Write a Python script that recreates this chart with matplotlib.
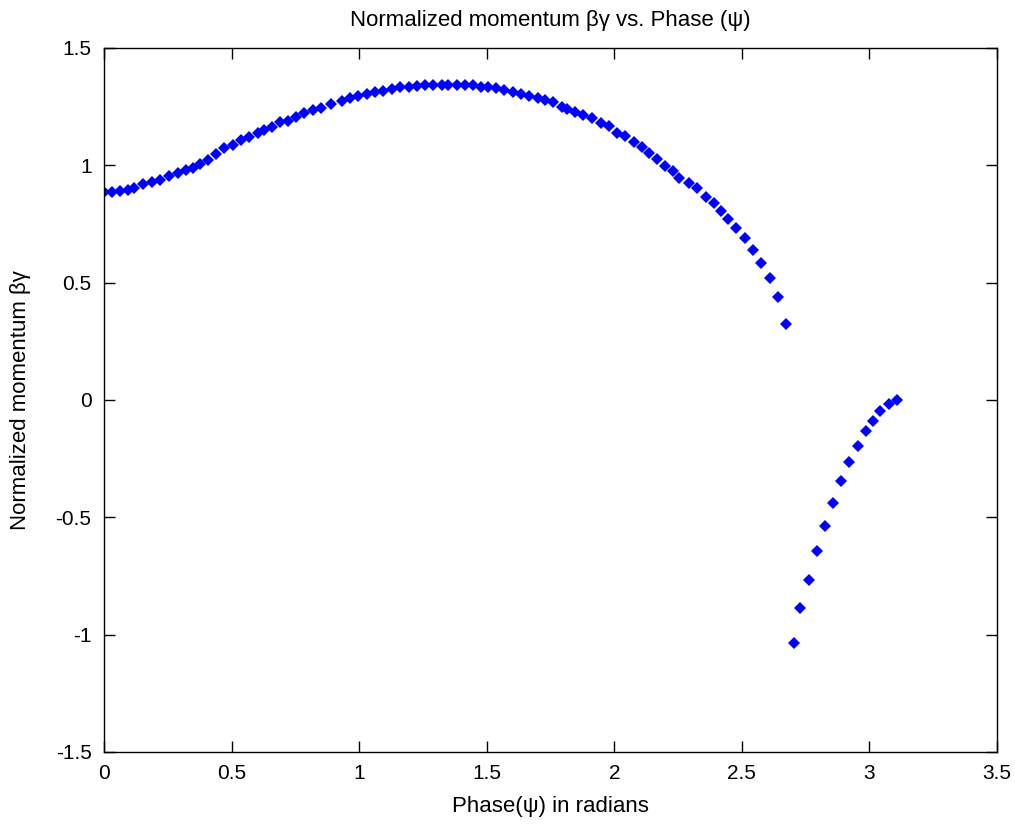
import matplotlib
matplotlib.use("Agg")
import matplotlib.pyplot as plt

# Phase (rad) and normalized momentum
phase_upper = [
    0.000, 0.030, 0.063, 0.095, 0.119, 0.154, 0.187, 0.219, 0.256, 0.289,
    0.321, 0.350, 0.376, 0.406, 0.440, 0.472, 0.507, 0.537, 0.570, 0.602,
    0.628, 0.660, 0.691, 0.720, 0.753, 0.785, 0.820, 0.851, 0.889, 0.932,
    0.964, 0.997, 1.030, 1.062, 1.095, 1.128, 1.160, 1.195, 1.225, 1.258,
    1.291, 1.324, 1.350, 1.382, 1.415, 1.447, 1.478, 1.504, 1.536, 1.569,
    1.602, 1.634, 1.667, 1.700, 1.728, 1.761, 1.794, 1.816, 1.846, 1.879,
    1.914, 1.947, 1.979, 2.012, 2.043, 2.076, 2.107, 2.135, 2.167, 2.199,
    2.231, 2.255, 2.293, 2.325, 2.359, 2.391, 2.417, 2.444, 2.477, 2.511,
    2.544, 2.576, 2.610, 2.642, 2.674,
]
momentum_upper = [
    0.885, 0.888, 0.892, 0.895, 0.902, 0.920, 0.927, 0.937, 0.956, 0.969,
    0.980, 0.987, 1.006, 1.023, 1.049, 1.072, 1.087, 1.108, 1.122, 1.137,
    1.151, 1.165, 1.183, 1.190, 1.205, 1.222, 1.236, 1.243, 1.260, 1.275,
    1.285, 1.295, 1.304, 1.311, 1.318, 1.325, 1.333, 1.335, 1.339, 1.342,
    1.342, 1.342, 1.342, 1.342, 1.342, 1.342, 1.335, 1.333, 1.328, 1.321,
    1.311, 1.304, 1.296, 1.288, 1.278, 1.269, 1.250, 1.240, 1.226, 1.214,
    1.200, 1.182, 1.168, 1.139, 1.125, 1.101, 1.079, 1.054, 1.026, 0.997,
    0.976, 0.947, 0.926, 0.902, 0.866, 0.841, 0.805, 0.770, 0.734, 0.689,
    0.639, 0.585, 0.518, 0.439, 0.322,
]
phase_lower = [
    2.704, 2.729, 2.762, 2.795, 2.827, 2.859, 2.890, 2.921, 2.954, 2.987,
    3.013, 3.043, 3.075, 3.108,
]
momentum_lower = [
    -1.037, -0.888, -0.767, -0.643, -0.536, -0.440, -0.344, -0.264, -0.195,
    -0.134, -0.089, -0.045, -0.017, -0.001,
]

x_ticks = [0, 0.5, 1, 1.5, 2, 2.5, 3, 3.5]
x_tick_labels = ["0", "0.5", "1", "1.5", "2", "2.5", "3", "3.5"]
y_ticks = [-1.5, -1, -0.5, 0, 0.5, 1, 1.5]
y_tick_labels = ["-1.5", "-1", "-0.5", "0", "0.5", "1", "1.5"]

plt.rcParams["font.family"] = ["Liberation Sans", "DejaVu Sans"]

fig = plt.figure(figsize=(10.15, 8.27), dpi=100)
ax = fig.add_axes([0.1025, 0.0907, 0.8798, 0.8513])

for xs, ys in [(phase_upper, momentum_upper), (phase_lower, momentum_lower)]:
    ax.plot(xs, ys, linestyle="none", marker="D", markersize=6.5,
            color="#0000ff", markeredgewidth=0)

ax.set_xlim(0, 3.5)
ax.set_ylim(-1.5, 1.5)
ax.set_xticks(x_ticks)
ax.set_xticklabels(x_tick_labels)
ax.set_yticks(y_ticks)
ax.set_yticklabels(y_tick_labels)
ax.tick_params(direction="in", length=8, width=1, top=True, right=True,
               labelsize=15, pad=9)
for spine in ax.spines.values():
    spine.set_linewidth(1)

ax.set_title("Normalized momentum βγ vs. Phase (ψ)", fontsize=16, pad=16)
ax.set_xlabel("Phase(ψ) in radians", fontsize=16, labelpad=9)
ax.set_ylabel("Normalized momentum βγ", fontsize=16, labelpad=18)

fig.savefig("out.png", dpi=100, facecolor="white")
